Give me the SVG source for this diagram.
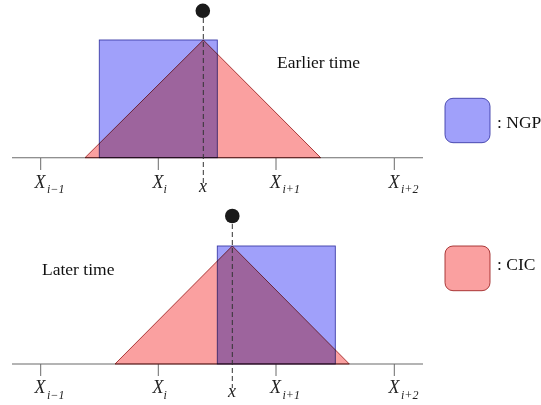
<svg xmlns="http://www.w3.org/2000/svg" width="541" height="405" viewBox="0 0 541 405">
<style>
.axis{stroke:#6b6b6b;stroke-width:1.1;fill:none}
.tick{stroke:#6b6b6b;stroke-width:1}
.ngp{fill:#a0a0fa;stroke:#3c3ca8;stroke-width:0.9;mix-blend-mode:multiply}
.cic{fill:#faa0a0;stroke:#a02828;stroke-width:0.9;mix-blend-mode:multiply}
.dash{stroke:#333;stroke-width:1;stroke-dasharray:5 3;fill:none}
.dot{fill:#1a1a1a}
.lbl{font-family:"Liberation Serif",serif;font-style:italic;font-size:18px;fill:#222}
.sub{font-size:12px}
.txt{font-family:"Liberation Serif",serif;font-size:17.5px;fill:#111}
</style>
<rect width="541" height="405" fill="#fff"/>
<g id="top-panel">
<line class="axis" x1="12" y1="157.7" x2="423" y2="157.7"/>
<g id="top-ticks">
<line class="tick" x1="40.7" y1="158" x2="40.7" y2="170"/>
<line class="tick" x1="158.3" y1="158" x2="158.3" y2="170"/>
<line class="tick" x1="276" y1="158" x2="276" y2="170"/>
<line class="tick" x1="394.3" y1="158" x2="394.3" y2="170"/>
</g>
<polygon id="top-cic" class="cic" points="85,157.7 203.3,40 320.7,157.7"/>
<rect id="top-ngp" class="ngp" x="99.3" y="40" width="118" height="117.7"/>
<line class="dash" x1="203.3" y1="18" x2="203.3" y2="183"/>
<circle id="top-particle" class="dot" cx="202.8" cy="10.8" r="7.3"/>
<text class="lbl" x="40" y="187.5" text-anchor="middle">X</text><text class="lbl sub" x="47" y="193">i−1</text>
<text class="lbl" x="158" y="187.5" text-anchor="middle">X</text><text class="lbl sub" x="163.5" y="193">i</text>
<text class="lbl" x="275.5" y="187.5" text-anchor="middle">X</text><text class="lbl sub" x="282.5" y="193">i+1</text>
<text class="lbl" x="394" y="187.5" text-anchor="middle">X</text><text class="lbl sub" x="401" y="193">i+2</text>
<text class="lbl" x="203" y="191.5" text-anchor="middle">x</text>
<text class="txt" x="277" y="68">Earlier time</text>
</g>
<g id="bottom-panel">
<line class="axis" x1="12" y1="364" x2="423" y2="364"/>
<g id="bottom-ticks">
<line class="tick" x1="40.7" y1="364" x2="40.7" y2="376"/>
<line class="tick" x1="158.3" y1="364" x2="158.3" y2="376"/>
<line class="tick" x1="276" y1="364" x2="276" y2="376"/>
<line class="tick" x1="394.3" y1="364" x2="394.3" y2="376"/>
</g>
<polygon id="bottom-cic" class="cic" points="115,364 232.3,246 349.3,364"/>
<rect id="bottom-ngp" class="ngp" x="217.3" y="246" width="118" height="118"/>
<line class="dash" x1="232.3" y1="224" x2="232.3" y2="388"/>
<circle id="bottom-particle" class="dot" cx="232.3" cy="216" r="7.3"/>
<text class="lbl" x="40" y="393" text-anchor="middle">X</text><text class="lbl sub" x="47" y="398.5">i−1</text>
<text class="lbl" x="158" y="393" text-anchor="middle">X</text><text class="lbl sub" x="163.5" y="398.5">i</text>
<text class="lbl" x="275.5" y="393" text-anchor="middle">X</text><text class="lbl sub" x="282.5" y="398.5">i+1</text>
<text class="lbl" x="394" y="393" text-anchor="middle">X</text><text class="lbl sub" x="401" y="398.5">i+2</text>
<text class="lbl" x="232" y="396.5" text-anchor="middle">x</text>
<text class="txt" x="42" y="275">Later time</text>
</g>
<g id="legend-ngp">
<rect class="ngp" x="445" y="98.3" width="45" height="44.4" rx="8"/>
<text class="txt" x="497" y="128">: NGP</text>
</g>
<g id="legend-cic">
<rect class="cic" x="445" y="246" width="45" height="44.7" rx="8"/>
<text class="txt" x="497" y="270">: CIC</text>
</g>
</svg>
